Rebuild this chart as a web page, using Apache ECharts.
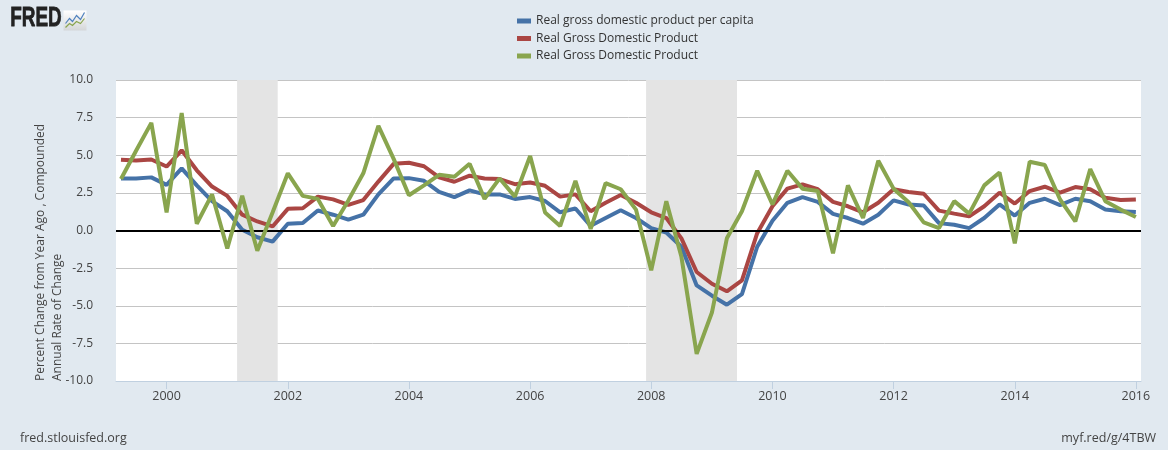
<!DOCTYPE html>
<html>
<head>
<meta charset="utf-8">
<script src="https://cdn.jsdelivr.net/npm/echarts@6.0.0/dist/echarts.min.js"></script>
<style>
  html, body { margin: 0; padding: 0; background: #e1e9f0; }
  #chart { width: 1168px; height: 450px; }
</style>
</head>
<body>
<div id="chart"></div>
<script>
// ---- Data (quarterly) ----
const dates = [
  '1999-04-01','1999-07-01','1999-10-01',
  '2000-01-01','2000-04-01','2000-07-01','2000-10-01',
  '2001-01-01','2001-04-01','2001-07-01','2001-10-01',
  '2002-01-01','2002-04-01','2002-07-01','2002-10-01',
  '2003-01-01','2003-04-01','2003-07-01','2003-10-01',
  '2004-01-01','2004-04-01','2004-07-01','2004-10-01',
  '2005-01-01','2005-04-01','2005-07-01','2005-10-01',
  '2006-01-01','2006-04-01','2006-07-01','2006-10-01',
  '2007-01-01','2007-04-01','2007-07-01','2007-10-01',
  '2008-01-01','2008-04-01','2008-07-01','2008-10-01',
  '2009-01-01','2009-04-01','2009-07-01','2009-10-01',
  '2010-01-01','2010-04-01','2010-07-01','2010-10-01',
  '2011-01-01','2011-04-01','2011-07-01','2011-10-01',
  '2012-01-01','2012-04-01','2012-07-01','2012-10-01',
  '2013-01-01','2013-04-01','2013-07-01','2013-10-01',
  '2014-01-01','2014-04-01','2014-07-01','2014-10-01',
  '2015-01-01','2015-04-01','2015-07-01','2015-10-01',
  '2016-01-01'
];

// Real gross domestic product per capita, percent change from year ago
const perCapitaYoY = [
  3.46, 3.46, 3.53,
  3.03, 4.13, 3.00, 1.95,
  1.28, 0.05, -0.45, -0.74,
  0.45, 0.50, 1.33, 1.05,
  0.72, 1.05, 2.40, 3.46,
  3.48, 3.30, 2.56, 2.22,
  2.67, 2.40, 2.40, 2.10,
  2.22, 1.96, 1.21, 1.46,
  0.31, 0.83, 1.34, 0.83,
  0.16, -0.13, -1.08, -3.65,
  -4.33, -4.93, -4.22, -1.08,
  0.65, 1.84, 2.22, 1.90,
  1.10, 0.83, 0.45, 1.05,
  2.00, 1.73, 1.66, 0.49,
  0.38, 0.16, 0.83, 1.73,
  0.99, 1.84, 2.11, 1.68,
  2.11, 1.95, 1.39, 1.28,
  1.23
];

// Real Gross Domestic Product, percent change from year ago
const gdpYoY = [
  4.70, 4.65, 4.72,
  4.25, 5.33, 4.00, 2.92,
  2.30, 1.05, 0.60, 0.27,
  1.44, 1.48, 2.25, 2.07,
  1.70, 2.02, 3.25, 4.43,
  4.50, 4.27, 3.53, 3.24,
  3.64, 3.46, 3.42, 3.08,
  3.19, 2.97, 2.25, 2.40,
  1.28, 1.84, 2.36, 1.84,
  1.21, 0.83, -0.52, -2.76,
  -3.54, -4.04, -3.32, -0.18,
  1.61, 2.78, 3.07, 2.74,
  1.90, 1.61, 1.21, 1.84,
  2.74, 2.56, 2.44, 1.32,
  1.12, 0.94, 1.61, 2.51,
  1.79, 2.62, 2.91, 2.51,
  2.89, 2.74, 2.17, 2.02,
  2.06
];

// Real Gross Domestic Product, compounded annual rate of change
const gdpAnnualized = [
  3.42, 5.30, 7.15,
  1.20, 7.80, 0.45, 2.40,
  -1.20, 2.30, -1.35, 1.20,
  3.80, 2.30, 2.10, 0.30,
  2.00, 3.80, 6.95, 4.76,
  2.34, 3.00, 3.70, 3.57,
  4.43, 2.10, 3.46, 2.25,
  4.95, 1.20, 0.30, 3.30,
  0.10, 3.15, 2.74, 1.39,
  -2.65, 1.95, -1.75, -8.20,
  -5.45, -0.52, 1.28, 3.97,
  1.73, 3.97, 2.78, 2.62,
  -1.52, 3.00, 0.83, 4.64,
  2.78, 1.88, 0.54, 0.16,
  1.95, 1.12, 3.00, 3.86,
  -0.85, 4.57, 4.35, 2.06,
  0.60, 4.08, 1.95, 1.39,
  0.90
];

const legendLabels = [
  'Real gross domestic product per capita',
  'Real Gross Domestic Product',
  'Real Gross Domestic Product'
];
const seriesKeys = [
  'Real gross domestic product per capita (Percent Change from Year Ago)',
  'Real Gross Domestic Product (Percent Change from Year Ago)',
  'Real Gross Domestic Product (Compounded Annual Rate of Change)'
];
const xTickDates = ['2000-01-01','2002-01-01','2004-01-01','2006-01-01','2008-01-01','2010-01-01','2012-01-01','2014-01-01','2016-01-01'];
const xRange = ['1999-03-02', '2016-02-01'];
const yMin = -10, yMax = 10, yStep = 2.5;
const recessions = [['2001-03-01','2001-11-01'], ['2007-12-01','2009-06-01']];
const yAxisTitle = ['Percent Change from Year Ago , Compounded', 'Annual Rate of Change'];

// ---- Chart ----
const FONT = "'Open Sans', 'DejaVu Sans', sans-serif";
const t = s => Date.UTC(+s.slice(0, 4), +s.slice(5, 7) - 1, +s.slice(8, 10));
const pair = (arr) => dates.map((d, i) => [t(d), arr[i]]);

const chart = echarts.init(document.getElementById('chart'), null, { renderer: 'canvas' });

chart.setOption({
  backgroundColor: '#e1e9f0',
  animation: false,
  textStyle: { fontFamily: FONT },
  grid: {
    left: 116, right: 27, top: 80, bottom: 69,
    show: true, backgroundColor: '#ffffff', borderWidth: 0
  },
  legend: {
    orient: 'vertical',
    left: 512, top: 9,
    icon: 'rect',
    itemWidth: 14, itemHeight: 5,
    itemGap: 3.5,
    data: seriesKeys,
    formatter: name => legendLabels[seriesKeys.indexOf(name)],
    textStyle: { fontFamily: FONT, fontSize: 12, color: '#333', lineHeight: 14 }
  },
  xAxis: {
    type: 'value',
    min: t(xRange[0]),
    max: t(xRange[1]),
    axisLine: { show: true, onZero: false, lineStyle: { color: '#c0d0e0', width: 1 } },
    axisTick: {
      show: true, length: 8,
      lineStyle: { color: '#c0d0e0' },
      customValues: xTickDates.map(t)
    },
    axisLabel: {
      customValues: xTickDates.map(t),
      formatter: v => String(new Date(v).getUTCFullYear()),
      color: '#444', fontSize: 12.5, fontFamily: FONT, margin: 9
    },
    splitLine: { show: false }
  },
  yAxis: {
    type: 'value',
    min: yMin, max: yMax, interval: yStep,
    axisLine: { show: false },
    axisTick: { show: false },
    axisLabel: {
      formatter: v => v.toFixed(1),
      color: '#444', fontSize: 12, fontFamily: FONT, margin: 23
    },
    splitLine: { show: true, lineStyle: { color: '#c4c4c4', width: 1 } }
  },
  graphic: [
    {
      type: 'text', left: 10, top: 5, z: 10,
      scaleX: 0.7,
      style: { text: 'FRED', font: "bold 27px 'Liberation Sans', Arial, sans-serif", fill: '#222', stroke: '#222', lineWidth: 0.8 }
    },
    {
      type: 'group', left: 63, top: 10, z: 10,
      children: [
        { type: 'rect', shape: { x: 0, y: 0, width: 23, height: 20 },
          style: { fill: new echarts.graphic.LinearGradient(0, 0, 0, 1, [{offset: 0, color: '#ffffff'}, {offset: 1, color: '#d4d6d8'}]) } },
        { type: 'polyline', shape: { points: [[2,13],[6,8],[9,11],[13,5],[17,9],[21,2]] },
          style: { stroke: '#4f81bd', lineWidth: 1.2, fill: null } },
        { type: 'polyline', shape: { points: [[2,17],[6,13],[9,15],[13,11],[17,13],[21,8]] },
          style: { stroke: '#89a54e', lineWidth: 1.2, fill: null } }
      ]
    },
    {
      type: 'text', x: 32, y: 381, rotation: Math.PI / 2, z: 10,
      style: {
        text: yAxisTitle.join('\n'),
        fontFamily: FONT, fontSize: 12, lineHeight: 17,
        fill: '#444', align: 'left', verticalAlign: 'top'
      }
    },
    {
      type: 'text', left: 20, top: 432,
      style: { text: 'fred.stlouisfed.org', fontFamily: FONT, fontSize: 12.5, fill: '#444' }
    },
    {
      type: 'text', right: 12, top: 432,
      style: { text: 'myf.red/g/4TBW', fontFamily: FONT, fontSize: 12.5, fill: '#444' }
    }
  ],
  series: [
    {
      name: seriesKeys[0],
      type: 'line',
      data: pair(perCapitaYoY),
      showSymbol: false, symbol: 'none',
      lineStyle: { color: '#4572a7', width: 4 },
      itemStyle: { color: '#4572a7' },
      z: 3,
      markArea: {
        silent: true,
        itemStyle: { color: '#e4e4e4' },
        data: recessions.map(r => [{ xAxis: t(r[0]) }, { xAxis: t(r[1]) }])
      },
      markLine: {
        silent: true, symbol: 'none',
        label: { show: false },
        lineStyle: { color: '#000', width: 2, type: 'solid' },
        data: [{ yAxis: 0 }]
      }
    },
    {
      name: seriesKeys[1],
      type: 'line',
      data: pair(gdpYoY),
      showSymbol: false, symbol: 'none',
      lineStyle: { color: '#aa4643', width: 4 },
      itemStyle: { color: '#aa4643' },
      z: 4
    },
    {
      name: seriesKeys[2],
      type: 'line',
      data: pair(gdpAnnualized),
      showSymbol: false, symbol: 'none',
      lineStyle: { color: '#89a54e', width: 4 },
      itemStyle: { color: '#89a54e' },
      z: 5
    }
  ]
});
</script>
</body>
</html>
